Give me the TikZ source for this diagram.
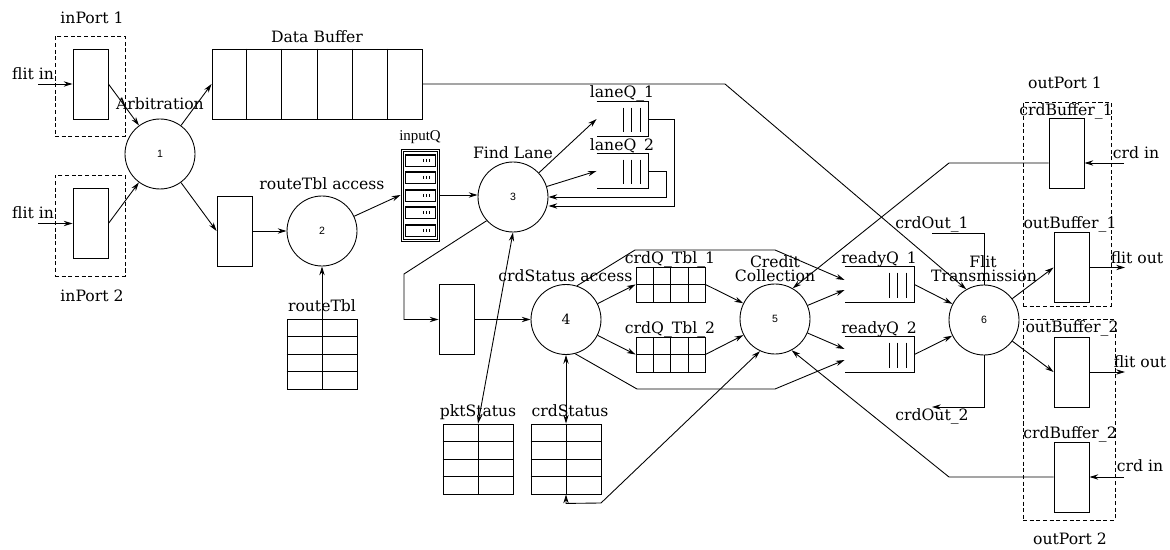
\documentclass[tikz,border=0pt]{standalone}
\usepackage{fontspec}
\setmainfont{DejaVu Serif}
\newfontfamily\numfont{Liberation Sans}
\newfontfamily\iconfont{Liberation Serif}
\usetikzlibrary{arrows.meta,calc}

% grid lines inside a table node: node, columns, rows
\newcommand\tblgrid[3]{%
  \pgfmathtruncatemacro\tgcols{#2-1}%
  \pgfmathtruncatemacro\tgrows{#3-1}%
  \ifnum\tgcols>0
    \foreach \k in {1,...,\tgcols}{\draw ($(#1.north west)!\k/#2!(#1.north east)$) -- ($(#1.south west)!\k/#2!(#1.south east)$);}%
  \fi
  \ifnum\tgrows>0
    \foreach \k in {1,...,\tgrows}{\draw ($(#1.north west)!\k/#3!(#1.south west)$) -- ($(#1.north east)!\k/#3!(#1.south east)$);}%
  \fi
}
% queue open on its left side, with three slots at its right end
\newcommand\queue[1]{%
  \draw (#1.north west) -- (#1.north east) -- (#1.south east) -- (#1.south west);
  \foreach \d in {8,17,25}{\draw ([xshift=-\d*0.02cm,yshift=-0.12cm]#1.north east) -- ([xshift=-\d*0.02cm,yshift=0.08cm]#1.south east);}
}

\tikzset{
  >={Stealth[length=5pt,width=3pt]},
  proc/.style={circle,draw,minimum size=1.4cm,inner sep=0pt},
  box/.style={rectangle,draw,minimum width=0.7cm,minimum height=1.4cm,inner sep=0pt},
  tbl/.style={rectangle,draw,inner sep=0pt},
  qbox/.style={rectangle,inner sep=0pt,minimum height=0.69cm},
  port/.style={rectangle,draw,dash pattern=on 2.3pt off 1.5pt,inner sep=0pt},
  lbl/.style={inner sep=0pt,text height=6.5pt,text depth=0pt,font=\fontsize{8.9}{10}\selectfont},
  num/.style={font=\numfont\fontsize{6}{7}\selectfont},
}

\begin{document}
\begin{tikzpicture}[x=0.02cm,y=-0.02cm,line width=0.5pt]
\useasboundingbox (0,0) rectangle (1170,550);

% ---------- input ports ----------
\node[port,minimum width=1.4cm,minimum height=2.0cm] (ip1) at (90,86) {};
\node[port,minimum width=1.4cm,minimum height=2.02cm] (ip2) at (90,225.5) {};
\node[box] (ib1) at (90.5,84) {};
\node[box] (ib2) at (90.5,223.5) {};
\node[lbl] at (92,18) {inPort 1};
\node[lbl] at (92,296) {inPort 2};
\coordinate (fi1) at (38,84);
\coordinate (fi2) at (38,223.5);
\node[lbl] at (33,74) {flit in};
\node[lbl] at (33,213) {flit in};
\draw[->] (fi1) -- (ib1.west);
\draw[->] (fi2) -- (ib2.west);

% ---------- arbitration ----------
\node[proc] (c1) at (160,154) {\numfont\fontsize{6}{7}\selectfont 1};
\node[lbl] at (160,104) {Arbitration};
\draw[->] (ib1.east) -- (c1);
\draw[->] (ib2.east) -- (c1);

% ---------- data buffer ----------
\node[tbl,minimum width=4.2cm,minimum height=1.4cm] (db) at (317,84) {};
\tblgrid{db}{6}{1}
\node[lbl] at (317,37) {Data Buffer};
\draw[->] (c1) -- (db.west);

% ---------- route table access ----------
\node[box] (ra) at (234.5,231) {};
\node[proc] (c2) at (322,231) {\numfont\fontsize{6}{7}\selectfont 2};
\node[lbl] at (322,184) {routeTbl access};
\node[tbl,minimum width=1.4cm,minimum height=1.4cm] (rtbl) at (322,354) {};
\tblgrid{rtbl}{2}{4}
\node[lbl] at (322,306) {routeTbl};
\draw[->] (c1) -- (ra.west);
\draw[->] (ra.east) -- (ra.east -| c2.west);
\draw[->] (rtbl.south) -- (c2.south);

% ---------- input queue ----------
\node[tbl,minimum width=0.76cm,minimum height=1.84cm] (iq) at (420,195) {};
\draw (403,151) rectangle (437,239);
\foreach \y in {154,171.5,189,206.5,224}{
  \draw (405,\y) rectangle (435,\y+12);
  \draw[line width=0.9pt] (405,\y+1) -- (435,\y+1);
  \foreach \t in {423,426,429}{\draw[line width=0.3pt] (\t,\y+5) -- (\t,\y+8);}
}
\node[inner sep=0pt,font=\iconfont\fontsize{8.5}{9}\selectfont] at (420,137) {inputQ};
\draw[->] (c2) -- (iq.west);

% ---------- find lane ----------
\node[proc] (c3) at (513,197) {\numfont\fontsize{6}{7}\selectfont 3};
\node[lbl] at (513,153) {Find Lane};
\draw[->] (iq.east) -- (iq.east -| c3.west);
\node[qbox,minimum width=1.02cm,minimum height=0.68cm] (lq1) at (622.5,119) {};
\node[qbox,minimum width=1.02cm,minimum height=0.68cm] (lq2) at (622.5,171) {};
\queue{lq1}
\queue{lq2}
\node[lbl] at (622,92) {laneQ\_1};
\node[lbl] at (622,145) {laneQ\_2};
\draw[->] (c3) -- (lq1.west);
\draw[->] (c3) -- (lq2.west);
\draw[->] (lq1.east) -- ++(26,0) |- (c3.east |- 0,206);
\draw[->] (lq2.east) -- ++(18,0) |- (c3.east);

% ---------- credit status access ----------
\node[box] (r4) at (456.5,319.5) {};
\node[proc] (c4) at (566,319.5) {\fontsize{8}{9}\selectfont 4};
\node[lbl] at (565.5,276) {crdStatus access};
\draw[->] (c3.222) -- (404,274) |- (r4.west);
\draw[->] (r4.east) -- (c4);

\node[tbl,minimum width=1.4cm,minimum height=1.4cm] (pk) at (478,459) {};
\tblgrid{pk}{2}{4}
\node[lbl] at (478,411) {pktStatus};
\node[tbl,minimum width=1.4cm,minimum height=1.4cm] (cs) at (566,459) {};
\tblgrid{cs}{2}{4}
\node[lbl] at (570,411) {crdStatus};
\draw[<->] (c3.south) -- (pk.north);
\draw[<->] (c4.south) -- (cs.north);

\node[tbl,minimum width=1.38cm,minimum height=0.7cm] (cq1) at (670.5,284.5) {};
\tblgrid{cq1}{4}{2}
\node[tbl,minimum width=1.38cm,minimum height=0.7cm] (cq2) at (670.5,354.5) {};
\tblgrid{cq2}{4}{2}
\node[lbl] at (670,258) {crdQ\_Tbl\_1};
\node[lbl] at (670,328) {crdQ\_Tbl\_2};
\draw[->] (c4) -- (cq1.west);
\draw[->] (c4) -- (cq2.west);

% ---------- credit collection ----------
\node[proc] (c5) at (775,319) {\numfont\fontsize{6}{7}\selectfont 5};
\node[lbl] at (775,262) {Credit};
\node[lbl] at (775,275.5) {Collection};
\draw[->] (cq1.east) -- (c5);
\draw[->] (cq2.east) -- (c5);
\draw[<->] (cs.south) -- ++(0,9) -- (601,503) -- (c5.-115);

\node[qbox,minimum width=1.38cm,minimum height=0.7cm] (rq1) at (879.5,284.5) {};
\node[qbox,minimum width=1.38cm,minimum height=0.7cm] (rq2) at (879.5,354.5) {};
\queue{rq1}
\queue{rq2}
\node[lbl] at (879,258) {readyQ\_1};
\node[lbl] at (879,328) {readyQ\_2};
\draw[->] (c5) -- ($(rq1.west)+(0,5.5)$);
\draw[->] (c5) -- ($(rq2.west)+(0,-5.5)$);
\draw[->] (c4.72) -- (635,250) -- (775,250) -- ($(rq1.west)+(0,-4.5)$);
\draw[->] (c4.-75) -- (637,389) -- (775,389) -- ($(rq2.west)+(0,5.5)$);

% ---------- flit transmission ----------
\node[proc] (c6) at (984,320) {\numfont\fontsize{6}{7}\selectfont 6};
\node[lbl] at (983,261.5) {Flit};
\node[lbl] at (984,275.5) {Transmission};
\draw[->] (db.east) -- (725,84) -- (c6.120);
\draw[->] (rq1.east) -- (c6);
\draw[->] (rq2.east) -- (c6);
\coordinate (co1) at (932,233);
\coordinate (co2) at (932,407);
\draw (co1) -| (c6.north);
\draw[->] (c6.south) |- (co2);
\node[lbl] at (932,223) {crdOut\_1};
\node[lbl] at (932,415) {crdOut\_2};

% ---------- output ports ----------
\node[port,minimum width=1.76cm,minimum height=4.08cm] (op1) at (1067,204) {};
\node[port,minimum width=1.84cm,minimum height=4.02cm] (op2) at (1069,419.5) {};
\node[lbl] at (1065,83) {outPort 1};
\node[lbl] at (1070,539) {outPort 2};

\node[box] (cb1) at (1066.5,153.5) {};
\node[box] (ob1) at (1071.5,267.5) {};
\node[box] (ob2) at (1071.5,372) {};
\node[box] (cb2) at (1071.5,477) {};
\node[lbl] at (1066,110) {crdBuffer\_1};
\node[lbl] at (1070,223) {outBuffer\_1};
\node[lbl] at (1072,327) {outBuffer\_2};
\node[lbl] at (1070,433) {crdBuffer\_2};

\coordinate (ci1) at (1124,163);
\coordinate (ci2) at (1124,477);
\coordinate (fo1) at (1125,267.5);
\coordinate (fo2) at (1125,372);
\node[lbl] at (1136,153) {crd in};
\node[lbl] at (1140,466) {crd in};
\node[lbl] at (1137,258) {flit out};
\node[lbl] at (1140,362) {flit out};

\draw[->] (c6) -- (ob1.west);
\draw[->] (c6) -- (ob2.west);
\draw[->] (ob1.east) -- (fo1);
\draw[->] (ob2.east) -- (fo2);
\draw[->] (ci1) -- (cb1.east |- ci1);
\draw[->] (ci2) -- (cb2.east);
\draw[->] (cb1.west |- ci1) -- (949,163) -- (c5.60);
\draw[->] (cb2.west) -- (949,477) -- (c5.-62);
\end{tikzpicture}
\end{document}
